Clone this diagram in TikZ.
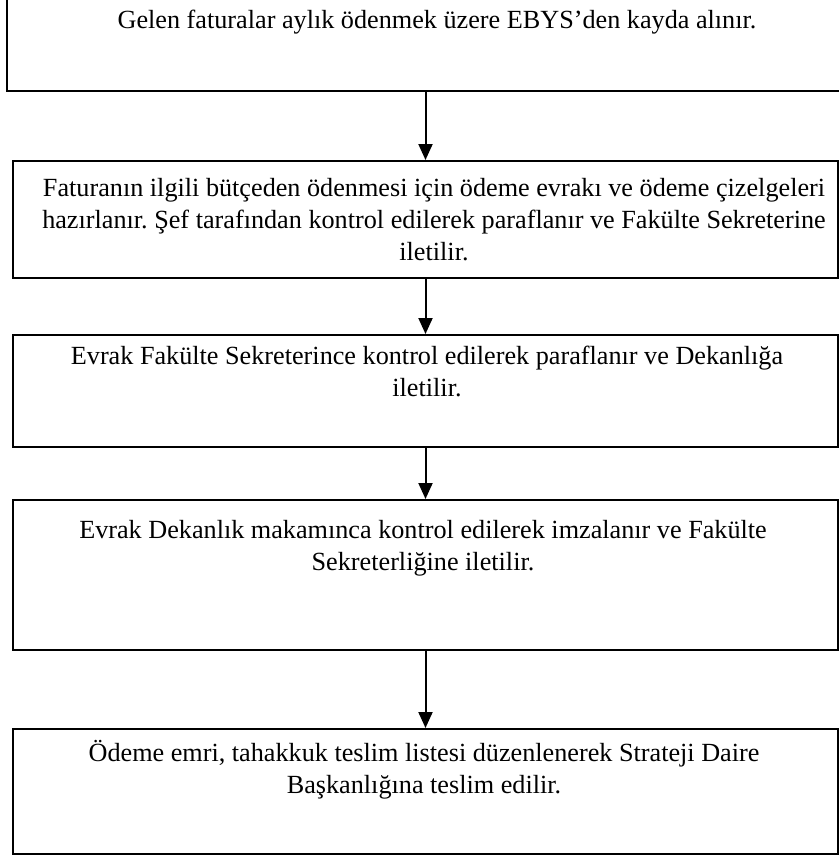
\documentclass[tikz,border=0pt]{standalone}
\usepackage{fontspec}
\setmainfont{Liberation Serif}
\usetikzlibrary{arrows.meta}
\tikzset{
  kutu/.style={draw,line width=1pt,rectangle,inner sep=0pt,minimum width=412.5pt},
  yazi/.style={anchor=north,inner sep=0pt,align=center,font=\fontsize{13.1}{16}\selectfont\frenchspacing},
  ok/.style={line width=1pt,-{Triangle[width=7pt,length=8pt]}}
}
\begin{document}
\begin{tikzpicture}[x=0.5pt,y=-0.5pt]
	    \clip (0,0) rectangle (839,858);
	    \fill[white] (0,0) rectangle (839,858);
	    % kutular
	    \node[kutu,minimum width=421.5pt,minimum height=50.5pt] (b1) at (428.5,40.5) {};
	    \node[kutu,minimum height=58.5pt] (b2) at (425.5,219.5) {};
	    \node[kutu,minimum height=56pt] (b3) at (425.5,391) {};
	    \node[kutu,minimum height=75pt] (b4) at (425.5,575) {};
	    \node[kutu,minimum height=62.5pt] (b5) at (425.5,791.5) {};
	    % metinler
	    \node[yazi] (t1) at (437,10) {Gelen faturalar aylık ödenmek üzere EBYS’den kayda alınır.};
	    \node[yazi] (t2) at (434,178) {Faturanın ilgili bütçeden ödenmesi için ödeme evrakı ve ödeme çizelgeleri\\hazırlanır. Şef tarafından kontrol edilerek paraflanır ve Fakülte Sekreterine\\iletilir.};
	    \node[yazi] (t3) at (427,346) {Evrak Fakülte Sekreterince kontrol edilerek paraflanır ve Dekanlığa\\iletilir.};
	    \node[yazi] (t4) at (423,520) {Evrak Dekanlık makamınca kontrol edilerek imzalanır ve Fakülte\\Sekreterliğine iletilir.};
	    \node[yazi] (t5) at (424,740) {Ödeme emri, tahakkuk teslim listesi düzenlenerek Strateji Daire\\Başkanlığına teslim edilir.};
	    % oklar
	    \draw[ok] (b1.south -| b2.north) -- (b2.north);
	    \draw[ok] (b2.south) -- (b3.north);
	    \draw[ok] (b3.south) -- (b4.north);
	    \draw[ok] (b4.south) -- (b5.north);
\end{tikzpicture}
\end{document}
